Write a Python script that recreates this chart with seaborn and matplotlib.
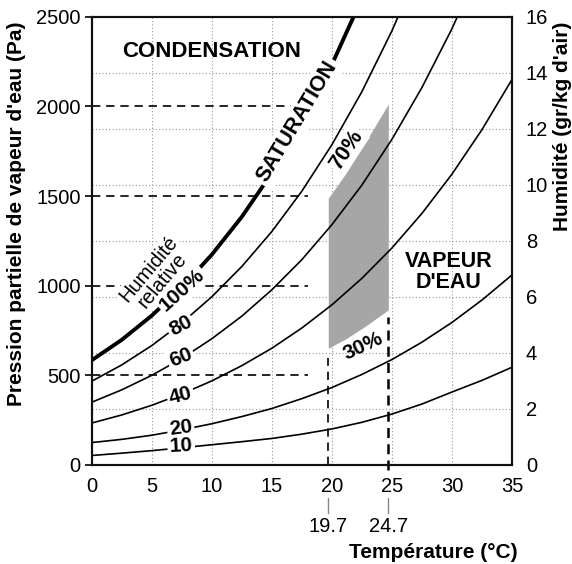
import matplotlib
matplotlib.use("Agg")
import matplotlib.pyplot as plt
import seaborn as sns

# ---------------- data ----------------
temps = [0, 2.5, 5, 7.5, 10, 12.5, 15, 17.5, 20, 22.5, 25, 27.5, 30, 32.5, 35]
rh100 = [584, 698, 833, 990, 1173, 1384, 1628, 1909, 2233, 2602]
rh80 = [467, 558, 666, 792, 938, 1107, 1302, 1527, 1786, 2082, 2421, 2806]
rh60 = [350, 419, 500, 594, 704, 830, 977, 1145, 1340, 1561, 1816, 2105, 2433, 2805]
rh40 = [234, 279, 333, 396, 469, 554, 651, 764, 893, 1041, 1210, 1403, 1622, 1870, 2150]
rh20 = [125, 143, 166, 196, 230, 270, 315, 370, 432, 505, 588, 685, 795, 920, 1060]
rh10 = [53, 66, 80, 96, 113, 130, 148, 172, 201, 238, 284, 340, 407, 472, 545]

curve_labels = ["100%", "80", "60", "40", "20", "10"]
label_temps = [7.5, 7.4, 7.4, 7.4, 7.4, 7.45]
label_press = [977, 775, 600, 387, 208, 104]
label_rot = [42, 28, 22, 15, 8, 3]

comfort_t = [19.7, 21.2, 22.7, 24.7]
comfort_top = [1488, 1630, 1790, 2013]
comfort_bottom = [651, 705, 770, 865]

ref_pressures = [500, 1000, 1500, 2000]
ref_press_end_t = 18.0
ref_temps = [19.7, 24.7]
ref_temp_top = [595, 828]

x_ticks = [0, 5, 10, 15, 20, 25, 30, 35]
y_ticks = [0, 500, 1000, 1500, 2000, 2500]
hum_ticks = [0, 2, 4, 6, 8, 10, 12, 14, 16]

# ---------------- style ----------------
sns.set_style("white")
plt.rcParams["font.family"] = ["Liberation Sans", "DejaVu Sans"]
for k in ("text.color", "axes.labelcolor", "xtick.color", "ytick.color"):
    plt.rcParams[k] = "black"
plt.rcParams["axes.linewidth"] = 1.5

fig = plt.figure(figsize=(5.72, 5.64), dpi=100)
ax = fig.add_axes([91.7 / 572, 1 - 465 / 564, 420.3 / 572, 448.3 / 564])

ax.set_xlim(0, 35)
ax.set_ylim(0, 2500)

# grid: vertical at x ticks, horizontal at right-axis ticks
hum_in_pa = [h * 2500 / 16 for h in hum_ticks]
ax.set_xticks(x_ticks)
ax.set_yticks(y_ticks)
ax.set_yticks(hum_in_pa[1:-1], minor=True)
ax.grid(axis="x", which="major", linestyle=(0, (1, 2)), color="#999999", lw=0.8)
ax.grid(axis="y", which="minor", linestyle=(0, (1, 2)), color="#999999", lw=0.8)
ax.grid(axis="y", which="major", visible=False)
ax.tick_params(axis="y", which="minor", length=0)
ax.tick_params(axis="y", which="major", direction="out", length=5, width=1.2,
               labelsize=14.5, pad=3, left=True)
ax.tick_params(axis="x", which="major", length=0, labelsize=14.5, pad=9)

# shaded comfort zone
ax.fill_between(comfort_t, comfort_bottom, comfort_top, color="#a6a6a6", lw=0, zorder=1)

# reference dashed lines
for p in ref_pressures:
    ax.plot([0, ref_press_end_t], [p, p], color="black", lw=1.2,
            linestyle=(0, (5, 3.5)), zorder=2, clip_on=False)
ax.plot([ref_temps[0], ref_temps[0]], [0, ref_temp_top[0]], color="black", lw=1.2,
        linestyle=(0, (5, 3.5)), zorder=2)
ax.plot([ref_temps[1], ref_temps[1]], [-30, ref_temp_top[1]], color="black", lw=1.8,
        linestyle=(0, (4, 2.5)), zorder=2, clip_on=False)

# humidity curves
curves = [rh100, rh80, rh60, rh40, rh20, rh10]
for vals in curves:
    is_sat = vals is rh100
    sns.lineplot(x=temps[:len(vals)], y=vals, ax=ax, color="black",
                 lw=2.8 if is_sat else 1.2, zorder=3)

box = dict(boxstyle="square,pad=0.1", fc="white", ec="none")
for txt, t, p, r in zip(curve_labels, label_temps, label_press, label_rot):
    ax.text(t, p, txt, rotation=r, rotation_mode="anchor", ha="center", va="center",
            fontsize=15, fontweight="bold", bbox=box, zorder=5)

ax.text(5.3, 1060, "Humidité\nrelative", rotation=50, rotation_mode="anchor",
        ha="center", va="center", fontsize=14.5, linespacing=0.95,
        bbox=dict(boxstyle="square,pad=0.05", fc="white", ec="none"), zorder=5)

ax.text(17.1, 1914, "SATURATION", rotation=59, rotation_mode="anchor",
        ha="center", va="center", fontsize=15.5, fontweight="bold",
        bbox=dict(boxstyle="square,pad=0.15", fc="white", ec="none"), zorder=5)
ax.text(10.0, 2306, "CONDENSATION", ha="center", va="center",
        fontsize=16, fontweight="bold", zorder=5)
ax.text(29.7, 1079, "VAPEUR\nD'EAU", ha="center", va="center",
        fontsize=15.5, fontweight="bold", linespacing=1.0, zorder=5)
ax.text(21.25, 1758, "70%", rotation=56, rotation_mode="anchor",
        ha="center", va="center", fontsize=15.5, fontweight="bold",
        bbox=dict(boxstyle="square,pad=0.08", fc="white", ec="none"), zorder=5)
ax.text(22.6, 660, "30%", rotation=25, rotation_mode="anchor",
        ha="center", va="center", fontsize=15, fontweight="bold", zorder=5)

# extra temperature marks below the axis
trans = ax.get_xaxis_transform()
for t in ref_temps:
    ax.plot([t, t], [-0.073, -0.107], color="#888888", lw=1.0,
            transform=trans, clip_on=False)
    ax.text(t, -0.138, f"{t:.1f}", transform=trans, ha="center", va="center",
            fontsize=14.5)

ax.set_xlabel("")
ax.set_ylabel("")
ax.text(0.812, -0.195, "Température (°C)", transform=ax.transAxes,
        ha="center", va="center", fontsize=15, fontweight="bold")
ax.text(-0.178, 0.56, "Pression partielle de vapeur d'eau (Pa)", transform=ax.transAxes,
        ha="center", va="center", rotation=90, fontsize=15, fontweight="bold")

# right axis
ax2 = ax.twinx()
ax2.set_ylim(0, 16)
ax2.set_yticks(hum_ticks)
ax2.tick_params(axis="y", length=0, labelsize=14.5, pad=10)
ax2.text(1.121, 0.756, "Humidité (gr/kg d'air)", transform=ax.transAxes,
         ha="center", va="center", rotation=90, fontsize=15, fontweight="bold")

for a in (ax, ax2):
    for s in a.spines.values():
        s.set_color("#111111")
        s.set_linewidth(1.5)

fig.savefig("out.png", dpi=100)
